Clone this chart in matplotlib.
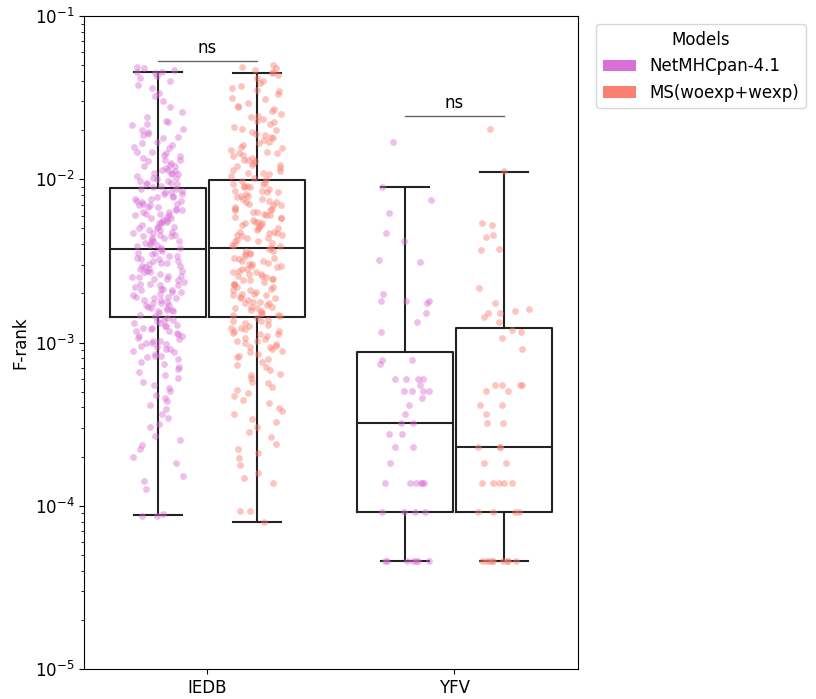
import numpy as np
import matplotlib.pyplot as plt
from matplotlib.patches import Patch

# categories / models
groups = ['IEDB', 'YFV']
models = ['NetMHCpan-4.1', 'MS(woexp+wexp)']
colors = ['orchid', 'salmon']

# F-rank values (log10 exponents for the dense IEDB clouds)
iedb_netmhc_exp = [
    -1.31, -1.32, -1.33, -1.34, -1.34, -1.35, -1.37, -1.38, -1.40, -1.42, -1.44,
    -1.47, -1.49, -1.52, -1.56, -1.59, -1.62, -1.64, -1.65, -1.66, -1.67, -1.69,
    -1.71, -1.72, -1.74, -1.75, -1.77, -1.79, -1.80, -1.81, -1.83, -1.83, -1.84,
    -1.86, -1.87, -1.88, -1.89, -1.90, -1.91, -1.92, -1.92, -1.93, -1.94, -1.95,
    -1.96, -1.96, -1.97, -1.98, -1.99, -1.99, -2.00, -2.01, -2.01, -2.02, -2.03,
    -2.03, -2.04, -2.05, -1.85, -1.78, -1.70, -1.97, -2.02, -1.94, -1.88, -1.73,
    -2.06, -2.06, -2.07, -2.08, -2.09, -2.09, -2.10, -2.11, -2.12, -2.12, -2.13,
    -2.14, -2.15, -2.15, -2.16, -2.17, -2.17, -2.18, -2.19, -2.20, -2.20, -2.21,
    -2.22, -2.22, -2.23, -2.24, -2.25, -2.25, -2.26, -2.27, -2.27, -2.28, -2.29,
    -2.30, -2.30, -2.31, -2.32, -2.33, -2.33, -2.34, -2.35, -2.35, -2.36, -2.37,
    -2.38, -2.38, -2.39, -2.40, -2.40, -2.41, -2.42, -2.42, -2.43, -2.08, -2.13,
    -2.19, -2.24, -2.29, -2.34, -2.39, -2.11, -2.16, -2.21, -2.26, -2.31, -2.36,
    -2.44, -2.45, -2.45, -2.46, -2.47, -2.48, -2.49, -2.49, -2.50, -2.51, -2.52,
    -2.53, -2.53, -2.54, -2.55, -2.56, -2.57, -2.57, -2.58, -2.59, -2.60, -2.61,
    -2.61, -2.62, -2.63, -2.64, -2.65, -2.65, -2.66, -2.67, -2.68, -2.69, -2.69,
    -2.70, -2.71, -2.72, -2.73, -2.73, -2.74, -2.75, -2.76, -2.77, -2.77, -2.78,
    -2.79, -2.80, -2.81, -2.81, -2.82, -2.83, -2.84, -2.47, -2.51, -2.56, -2.60,
    -2.64, -2.68, -2.72, -2.76, -2.80, -2.50, -2.59, -2.67, -2.74, -2.79, -2.55,
    -2.85, -2.86, -2.86, -2.87, -2.88, -2.88, -2.89, -2.90, -2.90, -2.91, -2.92,
    -2.93, -2.93, -2.94, -2.95, -2.96, -2.96, -2.97, -2.98, -2.99, -3.00, -3.00,
    -3.01, -3.02, -3.03, -3.04, -3.04, -3.05, -3.06, -3.07, -3.08, -3.08, -3.09,
    -3.10, -2.91, -2.99, -3.12, -3.13, -3.15, -3.16, -3.18, -3.20, -3.22, -3.24,
    -3.26, -3.28, -3.30, -3.32, -3.34, -3.36, -3.38, -3.41, -3.44, -3.46, -3.50,
    -3.52, -3.57, -3.60, -3.63, -3.65, -3.70, -3.74, -3.82, -3.85, -3.90, -4.06,
    -4.05, -4.06,
]
iedb_ms_exp = [
    -1.30, -1.31, -1.32, -1.33, -1.34, -1.35, -1.36, -1.38, -1.40, -1.41, -1.43,
    -1.45, -1.46, -1.48, -1.50, -1.51, -1.53, -1.55, -1.56, -1.58, -1.60, -1.61,
    -1.62, -1.64, -1.65, -1.66, -1.68, -1.69, -1.70, -1.72, -1.73, -1.74, -1.76,
    -1.77, -1.78, -1.79, -1.80, -1.81, -1.82, -1.83, -1.84, -1.85, -1.86, -1.87,
    -1.88, -1.89, -1.90, -1.91, -1.92, -1.93, -1.94, -1.95, -1.96, -1.97, -1.98,
    -1.99, -2.00, -1.63, -1.75, -1.84, -1.91, -1.96, -1.44, -1.57, -1.71, -1.88,
    -2.01, -2.02, -2.03, -2.04, -2.04, -2.05, -2.06, -2.07, -2.08, -2.08, -2.09,
    -2.10, -2.11, -2.12, -2.12, -2.13, -2.14, -2.15, -2.16, -2.16, -2.17, -2.18,
    -2.19, -2.20, -2.20, -2.21, -2.22, -2.23, -2.24, -2.24, -2.25, -2.26, -2.27,
    -2.28, -2.28, -2.29, -2.30, -2.31, -2.32, -2.32, -2.33, -2.34, -2.35, -2.36,
    -2.36, -2.37, -2.38, -2.39, -2.40, -2.40, -2.41, -2.42, -2.05, -2.10, -2.14,
    -2.18, -2.22, -2.26, -2.30, -2.34, -2.38, -2.07, -2.19, -2.27, -2.33, -2.03,
    -2.43, -2.44, -2.45, -2.46, -2.46, -2.47, -2.48, -2.49, -2.50, -2.51, -2.52,
    -2.52, -2.53, -2.54, -2.55, -2.56, -2.57, -2.58, -2.58, -2.59, -2.60, -2.61,
    -2.62, -2.63, -2.64, -2.64, -2.65, -2.66, -2.67, -2.68, -2.69, -2.70, -2.70,
    -2.71, -2.72, -2.73, -2.74, -2.75, -2.76, -2.76, -2.77, -2.78, -2.79, -2.80,
    -2.81, -2.82, -2.82, -2.83, -2.84, -2.48, -2.53, -2.57, -2.62, -2.66, -2.71,
    -2.75, -2.79, -2.44, -2.50, -2.55, -2.61, -2.68, -2.73, -2.78, -2.83, -2.59,
    -2.85, -2.86, -2.87, -2.87, -2.88, -2.89, -2.90, -2.91, -2.91, -2.92, -2.93,
    -2.94, -2.95, -2.95, -2.96, -2.97, -2.98, -2.99, -2.99, -3.00, -3.01, -3.02,
    -3.03, -3.03, -3.04, -3.05, -3.06, -3.07, -3.08, -3.09, -3.10, -2.93, -3.12,
    -3.14, -3.15, -3.17, -3.19, -3.20, -3.22, -3.24, -3.25, -3.27, -3.29, -3.31,
    -3.33, -3.35, -3.37, -3.40, -3.42, -3.44, -3.47, -3.49, -3.52, -3.55, -3.58,
    -3.62, -3.65, -3.68, -3.71, -3.75, -3.80, -3.83, -3.86, -4.03, -4.03, -4.10,
]
yfv_netmhc = [
    0.0169, 0.00897, 0.00747, 0.00621, 0.00469, 0.00419, 0.0032, 0.00311,
    0.00198, 0.00179, 0.00179, 0.00179, 0.00175, 0.00152, 0.00134, 0.00116,
    7.82e-4, 7.82e-4, 7.38e-4, 5.97e-4, 5.97e-4, 5.97e-4, 5.97e-4, 5.49e-4,
    5.05e-4, 5.05e-4, 5.05e-4, 5.05e-4, 4.57e-4, 4.14e-4, 3.65e-4, 3.21e-4,
    3.21e-4, 2.75e-4, 2.75e-4, 2.29e-4, 2.29e-4, 1.83e-4, 1.38e-4, 1.38e-4,
    1.38e-4, 1.38e-4, 1.38e-4, 1.38e-4, 9.17e-5, 9.17e-5, 9.17e-5, 9.17e-5,
    4.59e-5, 4.59e-5, 4.59e-5, 4.59e-5, 4.59e-5, 4.59e-5, 4.59e-5,
]
yfv_ms = [
    0.0203, 0.0112, 0.0054, 0.00525, 0.00455, 0.00442, 0.00374, 0.00369,
    0.00216, 0.00175, 0.0016, 0.00156, 0.00152, 0.00152, 0.00143, 0.00134,
    0.00119, 0.00116, 0.00107, 9.13e-4, 5.49e-4, 5.49e-4, 5.49e-4, 5.49e-4,
    5.05e-4, 5.05e-4, 4.14e-4, 4.14e-4, 3.65e-4, 3.21e-4, 3.21e-4, 2.29e-4,
    2.29e-4, 2.29e-4, 1.83e-4, 1.83e-4, 1.38e-4, 1.38e-4, 1.38e-4, 1.38e-4,
    1.38e-4, 9.17e-5, 9.17e-5, 9.17e-5, 9.17e-5, 4.59e-5, 4.59e-5, 4.59e-5,
    4.59e-5, 4.59e-5, 4.59e-5, 4.59e-5, 4.59e-5, 4.59e-5,
]

# box statistics (whislo, q1, med, q3, whishi)
box_whislo = [8.8e-5, 7.9e-5, 4.59e-5, 4.59e-5]
box_q1 = [1.43e-3, 1.43e-3, 9.16e-5, 9.16e-5]
box_med = [3.74e-3, 3.8e-3, 3.2e-4, 2.29e-4]
box_q3 = [8.83e-3, 9.88e-3, 8.75e-4, 1.23e-3]
box_whishi = [0.0454, 0.045, 8.97e-3, 0.0111]

# significance labels
sig_labels = ['ns', 'ns']
sig_heights = [0.053, 0.0244]

series = [10.0 ** np.array(iedb_netmhc_exp), 10.0 ** np.array(iedb_ms_exp),
          np.array(yfv_netmhc), np.array(yfv_ms)]

fig = plt.figure(figsize=(8.16, 6.99), dpi=100)
ax = fig.add_axes([0.103, 0.043, 0.605, 0.934])

positions = [-0.2, 0.2, 0.8, 1.2]
stats = []
for i in range(4):
    stats.append({'whislo': box_whislo[i], 'q1': box_q1[i], 'med': box_med[i],
                  'q3': box_q3[i], 'whishi': box_whishi[i], 'fliers': []})
line = dict(color='#222222', linewidth=1.5)
ax.bxp(stats, positions=positions, widths=0.39, showfliers=False,
       boxprops=line, whiskerprops=line, capprops=line, medianprops=line)

# jittered strips
rng = np.random.default_rng(3)
for i, vals in enumerate(series):
    x = positions[i] + rng.uniform(-0.105, 0.105, len(vals))
    ax.scatter(x, vals, s=24, color=colors[i % 2], alpha=0.45,
               linewidths=0, zorder=3)

ax.set_yscale('log')
ax.set_ylim(1e-5, 1e-1)
ax.set_xlim(-0.5, 1.5)
ax.set_xticks([0, 1])
ax.set_xticklabels(groups, fontsize=12)
ax.tick_params(axis='y', labelsize=12)
ax.set_ylabel('F-rank', fontsize=12)

# ns brackets
for g in range(2):
    ax.plot([g - 0.2, g + 0.2], [sig_heights[g], sig_heights[g]],
            color='#666666', linewidth=1)
    ax.text(g, sig_heights[g] * 1.06, sig_labels[g], ha='center',
            va='bottom', fontsize=12)

handles = [Patch(facecolor=colors[0], label=models[0]),
           Patch(facecolor=colors[1], label=models[1])]
ax.legend(handles=handles, title='Models', loc='upper left',
          bbox_to_anchor=(1.02, 1.0), fontsize=12, title_fontsize=12)

fig.savefig('out.png')
